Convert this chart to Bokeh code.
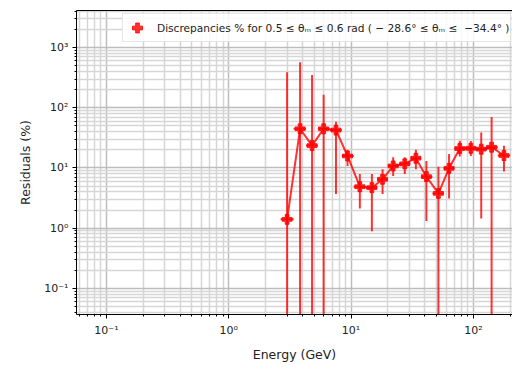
from bokeh.plotting import figure
from bokeh.models import (FixedTicker, CustomJSTickFormatter, Legend, LegendItem,
                          LogAxis, Range1d, ColumnDataSource)
from bokeh.embed import file_html
from bokeh.resources import INLINE

# Residuals per energy bin
energy = [3.0, 3.83, 4.8, 5.97, 7.53, 9.36, 11.8, 14.8, 18.1, 22.1,
          27.5, 33.9, 41.3, 51.8, 63.3, 77.5, 95.4, 116.0, 141.0, 178.0]
residual = [1.4, 44.7, 23.5, 44.7, 42.5, 15.8, 4.88, 4.7, 6.47, 10.8,
            11.7, 14.5, 7.17, 3.78, 9.87, 21.0, 21.2, 20.5, 22.1, 16.1]
# upper / lower ends of the error bars (0 = lower end is non-positive)
res_upper = [388, 569, 351, 165, 58.4, 20.0, 7.94, 7.94, 9.5, 15.1,
             15.1, 20.0, 13.1, 10.5, 17.1, 28.2, 28.0, 38.8, 69.9, 23.3]
res_lower = [0, 0, 0, 0, 3.69, 10.8, 2.13, 0.89, 3.69, 7.36,
             7.94, 9.5, 1.31, 0, 3.12, 15.5, 15.8, 1.45, 0, 8.7]

x_ticks = [0.1, 1, 10, 100]
y_ticks = [0.1, 1, 10, 100, 1000]

X_START, X_END = 0.0569, 209.0
Y_START, Y_END = 0.0368, 4120.0

# bin edges halfway (in log space) between neighbouring bin centres
edges = [(energy[i] * energy[i + 1]) ** 0.5 for i in range(len(energy) - 1)]
x_lo = [energy[0] ** 2 / edges[0]] + edges
x_hi = edges + [energy[-1] ** 2 / edges[-1]]
floor = Y_START * 0.5
y_lo = [v if v > 0 else floor for v in res_lower]

src = ColumnDataSource(dict(x=energy, y=residual, x_lo=x_lo, x_hi=x_hi,
                            y_lo=y_lo, y_hi=res_upper))

p = figure(width=512, height=370, x_axis_type="log", y_axis_type="log",
           x_range=Range1d(X_START, X_END), y_range=Range1d(Y_START, Y_END),
           output_backend="svg", toolbar_location=None,
           min_border_left=76, min_border_right=0, min_border_top=10,
           min_border_bottom=56, background_fill_color="white",
           border_fill_color="white", outline_line_color=None)

def minors(lo_exp, hi_exp):
    return [k * 10.0 ** e for e in range(lo_exp, hi_exp + 1) for k in range(2, 10)]

xt = FixedTicker(ticks=x_ticks, minor_ticks=minors(-2, 2))
yt = FixedTicker(ticks=y_ticks, minor_ticks=minors(-2, 3))

fmt = CustomJSTickFormatter(code="""
const sup = {'-':'\u207b','0':'\u2070','1':'\u00b9','2':'\u00b2','3':'\u00b3',
             '4':'\u2074','5':'\u2075','6':'\u2076','7':'\u2077','8':'\u2078','9':'\u2079'};
const e = Math.round(Math.log10(tick));
return '10' + String(e).split('').map(c => sup[c]).join('');
""")

for ax, tk in ((p.xaxis, xt), (p.yaxis, yt)):
    ax.ticker = tk
    ax.formatter = fmt
    ax.major_tick_in = 0
    ax.major_tick_out = 4
    ax.minor_tick_in = 0
    ax.minor_tick_out = 2
    ax.axis_line_color = "black"
    ax.major_tick_line_color = "black"
    ax.minor_tick_line_color = "black"
    ax.major_label_text_font = "DejaVu Sans"
    ax.major_label_text_font_size = "11px"
    ax.major_label_text_color = "#222222"
    ax.axis_label_text_font = "DejaVu Sans"
    ax.axis_label_text_font_size = "12.5px"
    ax.axis_label_text_font_style = "normal"
    ax.axis_label_text_color = "#222222"

p.xaxis.axis_label = "Energy (GeV)"
p.yaxis.axis_label = "Residuals (%)"
p.xaxis.major_label_standoff = 5
p.xaxis.axis_label_standoff = 7
p.yaxis.major_label_standoff = 4
p.yaxis.axis_label_standoff = 8

# top spine
top = LogAxis(ticker=FixedTicker(ticks=[]), major_label_text_font_size="0px",
              major_tick_out=0, minor_tick_out=0, axis_line_color="black")
p.add_layout(top, "above")

for g, tk in ((p.xgrid, xt), (p.ygrid, yt)):
    g.ticker = tk
    g.grid_line_color = "#bdbdbd"
    g.grid_line_width = 1.5
    g.minor_grid_line_color = "#d6d6d6"
    g.minor_grid_line_width = 1.5

RED = "red"
ALPHA = 0.8
p.segment("x", "y_lo", "x", "y_hi", source=src, line_color=RED,
          line_width=2, line_alpha=ALPHA)
p.segment("x_lo", "y", "x_hi", "y", source=src, line_color=RED,
          line_width=2, line_alpha=ALPHA)
p.line("x", "y", source=src, line_color=RED, line_width=2, line_alpha=ALPHA)
pts = p.scatter("x", "y", source=src, marker="plus", size=10,
                fill_color=RED, line_color=RED, fill_alpha=ALPHA,
                line_alpha=ALPHA, line_width=1)

legend = Legend(items=[LegendItem(
    label="Discrepancies % for 0.5 \u2264 \u03b8\u2098 \u2264 0.6 rad ( \u2212 28.6\u00b0 \u2264 \u03b8\u2098 \u2264  \u221234.4\u00b0 )",
    renderers=[pts])],
    location=(46, 272), padding=1, glyph_width=26, glyph_height=25,
    label_height=25, label_standoff=7, spacing=0, margin=0,
    label_text_font="DejaVu Sans", label_text_font_size="10.6px",
    label_text_color="#222222", border_line_color="#cccccc",
    border_line_width=1, background_fill_alpha=0.85)
p.add_layout(legend)

open("out.html", "w").write(file_html(p, INLINE))
